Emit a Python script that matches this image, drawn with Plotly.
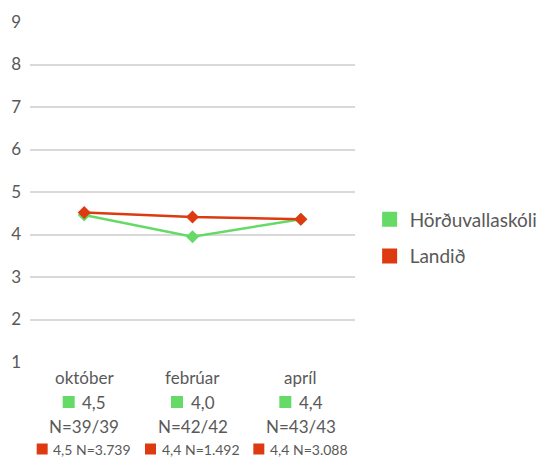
import plotly.graph_objects as go

categories = ["október", "febrúar", "apríl"]
school_name = "Hörðuvallaskóli"
country_name = "Landið"
school_values = [4.46, 3.95, 4.36]
country_values = [4.52, 4.41, 4.36]
school_labels = ["4,5", "4,0", "4,4"]
school_n = ["N=39/39", "N=42/42", "N=43/43"]
country_labels = ["4,5 N=3.739", "4,4 N=1.492", "4,4 N=3.088"]
y_ticks = [1, 2, 3, 4, 5, 6, 7, 8, 9]

GREEN = "#66DA66"
RED = "#DD3A12"
TXT = "#595959"
FONT = "Lato"

fig = go.Figure()
fig.add_trace(go.Scatter(x=categories, y=school_values, mode="lines+markers",
                         line=dict(color=GREEN, width=2.5),
                         marker=dict(symbol="diamond", size=10, color=GREEN),
                         showlegend=False, hoverinfo="skip"))
fig.add_trace(go.Scatter(x=categories, y=country_values, mode="lines+markers",
                         line=dict(color=RED, width=2.5),
                         marker=dict(symbol="diamond", size=10, color=RED),
                         showlegend=False, hoverinfo="skip"))
# legend entries (square swatches)
fig.add_trace(go.Scatter(x=[None], y=[None], mode="markers", name=school_name,
                         legendgroup="a",
                         marker=dict(symbol="square", size=15, color=GREEN)))
fig.add_trace(go.Scatter(x=[None], y=[None], mode="markers", name=country_name,
                         legendgroup="b",
                         marker=dict(symbol="square", size=15, color=RED)))

annotations = []
shapes = []
for i, c in enumerate(categories):
    annotations.append(dict(x=c, y=0, xref="x", yref="paper", yanchor="middle",
                            yshift=-15, showarrow=False, text=c,
                            font=dict(size=17, color=TXT, family=FONT)))
    annotations.append(dict(x=c, y=0, xref="x", yref="paper", yanchor="middle",
                            xanchor="left", xshift=-4, yshift=-40, showarrow=False,
                            text=school_labels[i],
                            font=dict(size=17, color=TXT, family=FONT)))
    annotations.append(dict(x=c, y=0, xref="x", yref="paper", yanchor="middle",
                            yshift=-64, showarrow=False, text=school_n[i],
                            font=dict(size=17, color=TXT, family=FONT)))
    annotations.append(dict(x=c, y=0, xref="x", yref="paper", yanchor="middle",
                            xanchor="left", xshift=-33, yshift=-87, showarrow=False,
                            text=country_labels[i],
                            font=dict(size=14, color=TXT, family=FONT)))
    shapes.append(dict(type="rect", xref="x", yref="paper",
                       xsizemode="pixel", ysizemode="pixel",
                       xanchor=i, yanchor=0,
                       x0=-21.5, x1=-9.5, y0=-46, y1=-34,
                       fillcolor=GREEN, line=dict(width=0)))
    shapes.append(dict(type="rect", xref="x", yref="paper",
                       xsizemode="pixel", ysizemode="pixel",
                       xanchor=i, yanchor=0,
                       x0=-47.5, x1=-36.5, y0=-92.5, y1=-81.5,
                       fillcolor=RED, line=dict(width=0)))

fig.update_layout(
    width=543, height=460,
    margin=dict(l=30, r=188, t=22, b=98, autoexpand=False),
    paper_bgcolor="white", plot_bgcolor="white",
    font=dict(family=FONT, color=TXT),
    legend=dict(x=1.045, y=0.365, xanchor="left", yanchor="middle",
                font=dict(size=19, color=TXT, family=FONT),
                traceorder="grouped", tracegroupgap=9),
    annotations=annotations,
    shapes=shapes,
    xaxis=dict(type="category", range=[-0.5, 2.5], showticklabels=False,
               showgrid=False, zeroline=False, showline=False, ticks=""),
    yaxis=dict(range=[1, 9], tickvals=y_ticks, showgrid=True,
               gridcolor="#D9D9D9", gridwidth=1.5, zeroline=False,
               showline=False, ticks="", ticklabelstandoff=8,
               tickfont=dict(size=17, color=TXT, family=FONT)),
)
fig.write_html("out.html", config={"displayModeBar": False},
               post_script="document.body.style.margin='0px';")
